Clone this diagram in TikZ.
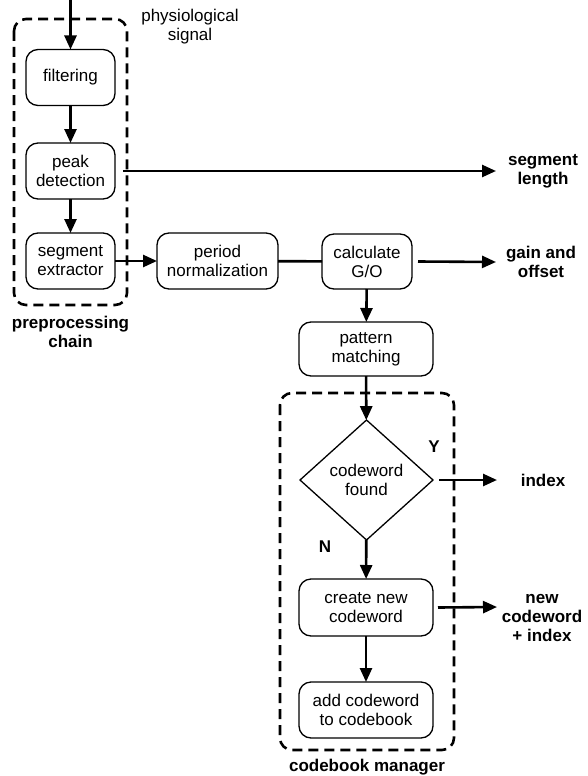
\documentclass[tikz,border=0pt]{standalone}
\usepackage{fontspec}
\setmainfont{Liberation Sans}
\usetikzlibrary{arrows.meta,shapes.geometric}

\tikzset{
  block/.style = {draw, rounded corners=12pt, line width=1.3pt, align=center,
                  inner sep=0pt, outer sep=0pt, minimum height=56pt},
  flow/.style = {line width=2.6pt, -{Triangle[length=14pt,width=12pt]}},
  group/.style = {line width=2.6pt, rounded corners=12pt, dash pattern=on 10pt off 6pt},
  result/.style = {align=center, font=\fontsize{17}{19}\selectfont\bfseries}
}

\begin{document}
\begin{tikzpicture}[x=1pt, y=-1pt, font=\fontsize{17}{19}\selectfont]
    \useasboundingbox (0,0) rectangle (588,776);
    % preprocessing chain
    \coordinate (in) at (70.5,0);
    \node (filt) at (70.5,77.5) [block, minimum width=89pt] {filtering};
    \node (peak) at (70.5,171) [block, minimum width=89pt] {peak\\detection};
    \node (segx) at (70.5,261) [block, minimum width=89pt] {segment\\extractor};
    \node (sig) at (190,27) [align=center] {physiological\\signal};
    \draw [group] (14,19) rectangle (127,305);
    \node (pre) at (70.5,332) [result] {preprocessing\\chain};
    \draw [flow] (in) -- (filt);
    \draw [flow] (filt) -- (peak);
    \draw [flow] (peak) -- (segx);
    % normalization and gain/offset
    \node (period) at (217.5,261) [block, minimum width=121pt] {period\\normalization};
    \node (calc) at (367,261.5) [block, minimum width=90pt, minimum height=55pt] {calculate\\G/O};
    \node (pattern) at (366,349) [block, minimum width=134pt, minimum height=54pt] {pattern\\matching};
    \draw [flow] (segx) -- (period);
    \draw [line width=2.6pt] (period) -- (calc);
    \draw [flow] (calc) -- (pattern);
    % outputs
    \coordinate (seglenend) at (496,171);
    \coordinate (gainend) at (496,262);
    \coordinate (indexend) at (497,480);
    \coordinate (newend) at (497,607);
    \node (seglen) at (543,171) [result] {segment\\length};
    \node (gain) at (541,262) [result] {gain and\\offset};
    \draw [flow] ([xshift=8pt]peak.east) -- (seglenend);
    \draw [flow] ([xshift=6pt]calc.east) -- (gainend);
    % codebook manager
    \node (found) at (366.5,480) [draw, diamond, line width=1.3pt, align=center, inner sep=0pt,
        outer sep=0pt, minimum width=133pt, minimum height=120pt] {codeword\\found};
    \node (create) at (366,607.5) [block, minimum width=134pt, minimum height=57pt] {create new\\codeword};
    \node (addcw) at (366,710) [block, minimum width=134pt] {add codeword\\to codebook};
    \draw [group] (280,393) rectangle (454,750);
    \node (yes) at (434,447) [result] {Y};
    \node (no) at (325,547) [result] {N};
    \node (mgr) at (367,767) [result] {codebook manager};
    \draw [flow] (pattern) -- (found);
    \draw [flow] (found) -- (create);
    \draw [flow] (create) -- (addcw);
    \node (index) at (543,480) [result] {index};
    \node (newcw) at (542,618) [result] {new\\codeword\\+ index};
    \draw [flow] ([xshift=6pt]found.east) -- (indexend);
    \draw [flow] ([xshift=5pt]create.east) -- (newend);
\end{tikzpicture}
\end{document}
